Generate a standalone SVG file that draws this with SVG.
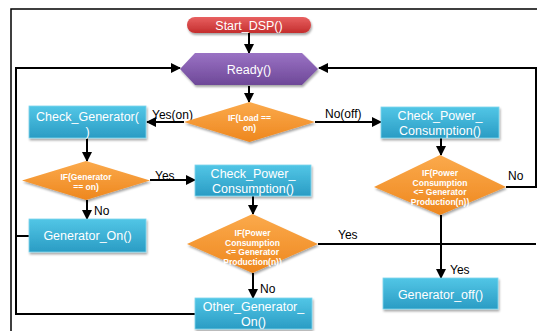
<svg xmlns="http://www.w3.org/2000/svg" width="537" height="331" viewBox="0 0 537 331">
<defs>
<linearGradient id="gBox" x1="0" y1="0" x2="0" y2="1"><stop offset="0" stop-color="#52C6E6"/><stop offset="1" stop-color="#2A9CC4"/></linearGradient>
<linearGradient id="gDia" x1="0" y1="0" x2="0" y2="1"><stop offset="0" stop-color="#FBAA4C"/><stop offset="1" stop-color="#EE871E"/></linearGradient>
<linearGradient id="gPur" x1="0" y1="0" x2="0" y2="1"><stop offset="0" stop-color="#9A72C4"/><stop offset="1" stop-color="#6E4898"/></linearGradient>
<linearGradient id="gRed" x1="0" y1="0" x2="0" y2="1"><stop offset="0" stop-color="#E86060"/><stop offset="1" stop-color="#C42E2E"/></linearGradient>
<filter id="sh" x="-10%" y="-10%" width="125%" height="140%"><feDropShadow dx="1" dy="2" stdDeviation="1.2" flood-color="#000" flood-opacity="0.35"/></filter>
<marker id="ar" viewBox="0 0 10 10" refX="9" refY="5" markerWidth="5" markerHeight="5" orient="auto-start-reverse"><path d="M0,0 L10,5 L0,10 z" fill="#000"/></marker>
</defs>
<style>
.box{fill:url(#gBox);stroke:#7FD6EE;stroke-width:0.8;filter:url(#sh)}
.dia{fill:url(#gDia);filter:url(#sh)}
.bt{font-family:"Liberation Sans",Arial,sans-serif;font-size:12.5px;fill:#fff;text-anchor:middle}
.dt{font-family:"Liberation Sans",Arial,sans-serif;font-size:8.5px;font-weight:bold;fill:#fff;text-anchor:middle}
.lb{font-family:"Liberation Sans",Arial,sans-serif;font-size:12px;fill:#000}
.ln{fill:none;stroke:#000;stroke-width:2}
.ar{marker-end:url(#ar)}
</style>
<rect width="537" height="331" fill="#fff"/>
<path d="M11,331 V9 H537" fill="none" stroke="#000" stroke-width="1.5"/>

<g id="connectors">
<path class="ln ar" d="M249,33 V53"/>
<path class="ln ar" d="M249,86 V102"/>
<path class="ln ar" d="M184,122 H147"/>
<path class="ln ar" d="M315,122 H381"/>
<path class="ln ar" d="M87,138 V161"/>
<path class="ln ar" d="M150,180 H195"/>
<path class="ln ar" d="M87,200 V219"/>
<path class="ln ar" d="M253,196 V214"/>
<path class="ln ar" d="M253,273 V298"/>
<path class="ln ar" d="M441,138 V155"/>
<path class="ln ar" d="M441,215 V278"/>
<path class="ln ar" d="M506,187 H536 V68 H319"/>
<path class="ln" d="M318,244 H536"/>
<path class="ln ar" d="M195,314 H16 V68 H180"/>
<path class="ln" d="M29,236 H16"/>
<text class="lb" x="152" y="119">Yes(on)</text>
<text class="lb" x="325" y="118">No(off)</text>
<text class="lb" x="155" y="180">Yes</text>
<text class="lb" x="94" y="215">No</text>
<text class="lb" x="260" y="293">No</text>
<text class="lb" x="338" y="239">Yes</text>
<text class="lb" x="450" y="274">Yes</text>
<text class="lb" x="508" y="180">No</text>
</g>

<g id="start">
<rect x="187" y="17" width="124" height="16" rx="8" fill="url(#gRed)" filter="url(#sh)"/>
<text class="bt" x="249" y="29.5">Start_DSP()</text>
</g>
<g id="ready">
<polygon points="180,69 195,53 302,53 318,69 302,85 195,85" fill="url(#gPur)" filter="url(#sh)"/>
<text class="bt" x="249" y="73.5">Ready()</text>
</g>
<g id="if-load">
<polygon class="dia" points="249.5,102 315,122 249.5,142 184,122"/>
<text class="dt" x="249.5" y="121">IF(Load ==</text>
<text class="dt" x="249.5" y="131">on)</text>
</g>
<g id="check-generator">
<rect class="box" x="29" y="106" width="117" height="32"/>
<text class="bt" x="87.5" y="120.5">Check_Generator(</text>
<text class="bt" x="87.5" y="136">)</text>
</g>
<g id="if-generator">
<polygon class="dia" points="86,161 150,180.5 86,200 22,180.5"/>
<text class="dt" x="86" y="180">IF(Generator</text>
<text class="dt" x="86" y="190">== on)</text>
</g>
<g id="check-power-mid">
<rect class="box" x="195" y="165" width="116" height="31"/>
<text class="bt" x="253" y="177.5">Check_Power_</text>
<text class="bt" x="253" y="192.5">Consumption()</text>
</g>
<g id="generator-on">
<rect class="box" x="29" y="219" width="117" height="33"/>
<text class="bt" x="87.5" y="240">Generator_On()</text>
</g>
<g id="if-power-mid">
<polygon class="dia" points="252.5,214 318,244 252.5,273 187,244"/>
<text class="dt" x="252.5" y="236">IF(Power</text>
<text class="dt" x="252.5" y="245.5">Consumption</text>
<text class="dt" x="252.5" y="255">&lt;= Generator</text>
<text class="dt" x="252.5" y="264.5">Production(n))</text>
</g>
<g id="other-generator-on">
<rect class="box" x="195" y="298" width="117" height="31"/>
<text class="bt" x="253.5" y="311">Other_Generator_</text>
<text class="bt" x="253.5" y="326">On()</text>
</g>
<g id="check-power-right">
<rect class="box" x="381" y="107" width="118" height="31"/>
<text class="bt" x="440" y="119.5">Check_Power_</text>
<text class="bt" x="440" y="135">Consumption()</text>
</g>
<g id="if-power-right">
<polygon class="dia" points="440,155 506,187 440,215 374,187"/>
<text class="dt" x="440" y="176">IF(Power</text>
<text class="dt" x="440" y="185.5">Consumption</text>
<text class="dt" x="440" y="195">&lt;= Generator</text>
<text class="dt" x="440" y="204.5">Production(n))</text>
</g>
<g id="generator-off">
<rect class="box" x="383" y="278" width="115" height="31"/>
<text class="bt" x="440.5" y="299">Generator_off()</text>
</g>
</svg>
